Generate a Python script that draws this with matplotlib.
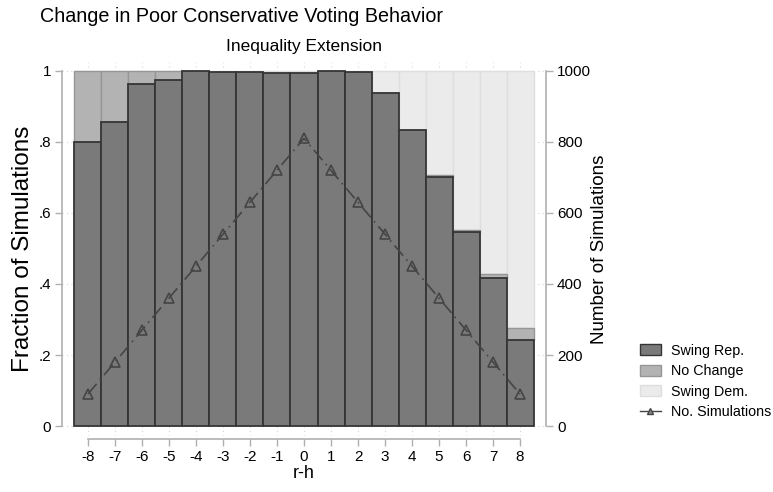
import matplotlib
matplotlib.use("Agg")
import matplotlib.pyplot as plt
from matplotlib.patches import Patch
from matplotlib.lines import Line2D
import numpy as np

plt.rcParams['font.family'] = ['Liberation Sans', 'DejaVu Sans']

# ---- data ----
rh = [-8, -7, -6, -5, -4, -3, -2, -1, 0, 1, 2, 3, 4, 5, 6, 7, 8]
swing_rep = [0.800, 0.856, 0.963, 0.975, 0.999, 0.997, 0.997, 0.995, 0.993,
             0.999, 0.996, 0.937, 0.833, 0.702, 0.546, 0.416, 0.242]
no_change = [0.200, 0.144, 0.037, 0.025, 0.001, 0.000, 0.000, 0.000, 0.000,
             0.000, 0.000, 0.000, 0.000, 0.004, 0.006, 0.012, 0.033]
swing_dem = [0.000, 0.000, 0.000, 0.000, 0.000, 0.003, 0.003, 0.005, 0.007,
             0.001, 0.004, 0.063, 0.167, 0.294, 0.448, 0.572, 0.725]
n_sims = [90, 180, 270, 360, 450, 540, 630, 720, 810,
          720, 630, 540, 450, 360, 270, 180, 90]
x_ticks = rh
y_ticks = [0, 0.2, 0.4, 0.6, 0.8, 1.0]
y_ticklabels = ['0', '.2', '.4', '.6', '.8', '1']
y2_ticks = [0, 200, 400, 600, 800, 1000]

W, H = 773, 492
fig = plt.figure(figsize=(W / 100, H / 100), dpi=100)
L, R, T, B = 62, 546, 62, 436
ax = fig.add_axes([L / W, 1 - B / H, (R - L) / W, (B - T) / H])

c_rep, e_rep = '#7a7a7a', '#353535'
c_nc, e_nc = '#b3b3b3', '#969696'
c_dem, e_dem = '#ebebeb', '#dedede'
axis_c = '#b0b0b0'
line_c = '#454545'

rep = np.array(swing_rep)
nc = np.array(no_change)
dem = np.array(swing_dem)
ax.bar(rh, rep, width=1.0, color=c_rep, edgecolor=e_rep, linewidth=1.3, zorder=3)
ax.bar(rh, nc, bottom=rep, width=1.0, color=c_nc, edgecolor=e_nc, linewidth=1.0, zorder=2)
ax.bar(rh, dem, bottom=rep + nc, width=1.0, color=c_dem, edgecolor=e_dem, linewidth=1.0, zorder=1)

ax.set_xlim(-8.96, 8.96)
ax.set_ylim(-0.028, 1.025)
ax.set_xticks(x_ticks)
ax.set_xticklabels([str(v) for v in x_ticks])
ax.set_yticks(y_ticks)
ax.set_yticklabels(y_ticklabels)
ax.set_axisbelow(True)
ax.grid(True, color='#d4d4d4', linestyle=(0, (1, 3)), linewidth=0.8, zorder=0)

for s in ['top', 'right']:
    ax.spines[s].set_visible(False)
ax.spines['left'].set_bounds(0, 1)
ax.spines['bottom'].set_bounds(-8, 8)
ax.spines['bottom'].set_position(('outward', 2))
for s in ['left', 'bottom']:
    ax.spines[s].set_color(axis_c)
    ax.spines[s].set_linewidth(1.2)
ax.tick_params(direction='out', length=5, width=1.0, color=axis_c,
               labelsize=11, pad=3, labelcolor='black')

ax.set_ylabel('Fraction of Simulations', fontsize=17.5, labelpad=3)
ax.set_xlabel('r-h', fontsize=13, labelpad=1)

ax2 = ax.twinx()
ax2.set_ylim(-28, 1025)
ax2.set_yticks(y2_ticks)
ax2.set_yticklabels([str(v) for v in y2_ticks])
for s in ['top', 'left', 'bottom']:
    ax2.spines[s].set_visible(False)
ax2.spines['right'].set_bounds(0, 1000)
ax2.spines['right'].set_color(axis_c)
ax2.spines['right'].set_linewidth(1.2)
ax2.tick_params(direction='out', length=5, width=1.0, color=axis_c,
                labelsize=11, pad=3, labelcolor='black')
ax2.set_ylabel('Number of Simulations', fontsize=13.5, labelpad=0)
ax2.plot(rh, n_sims, color=line_c, linestyle=(0, (8, 3, 1, 3)), linewidth=1.2,
         marker='^', markersize=6.5, markerfacecolor='none',
         markeredgecolor=line_c, markeredgewidth=1.2, zorder=5)

fig.text(241 / W, 1 - 16 / H, 'Change in Poor Conservative Voting Behavior',
         ha='center', va='center', fontsize=14.2)
fig.text(304 / W, 1 - 46 / H, 'Inequality Extension',
         ha='center', va='center', fontsize=12.5)

handles = [
    Patch(facecolor=c_rep, edgecolor=e_rep, linewidth=1.0, label='Swing Rep.'),
    Patch(facecolor=c_nc, edgecolor=e_nc, linewidth=1.0, label='No Change'),
    Patch(facecolor=c_dem, edgecolor=e_dem, linewidth=1.0, label='Swing Dem.'),
    Line2D([0], [0], color=line_c, linestyle='-', linewidth=1.0, marker='^',
           markersize=5, markerfacecolor='#8a8a8a', markeredgecolor=line_c,
           label='No. Simulations'),
]
fig.legend(handles=handles, loc='upper left', bbox_to_anchor=(634 / W, 1 - 338 / H),
           frameon=False, fontsize=10.3, handlelength=1.5, handleheight=0.8,
           handletextpad=0.7, labelspacing=0.45, borderaxespad=0)

fig.savefig('out.png', dpi=100)
